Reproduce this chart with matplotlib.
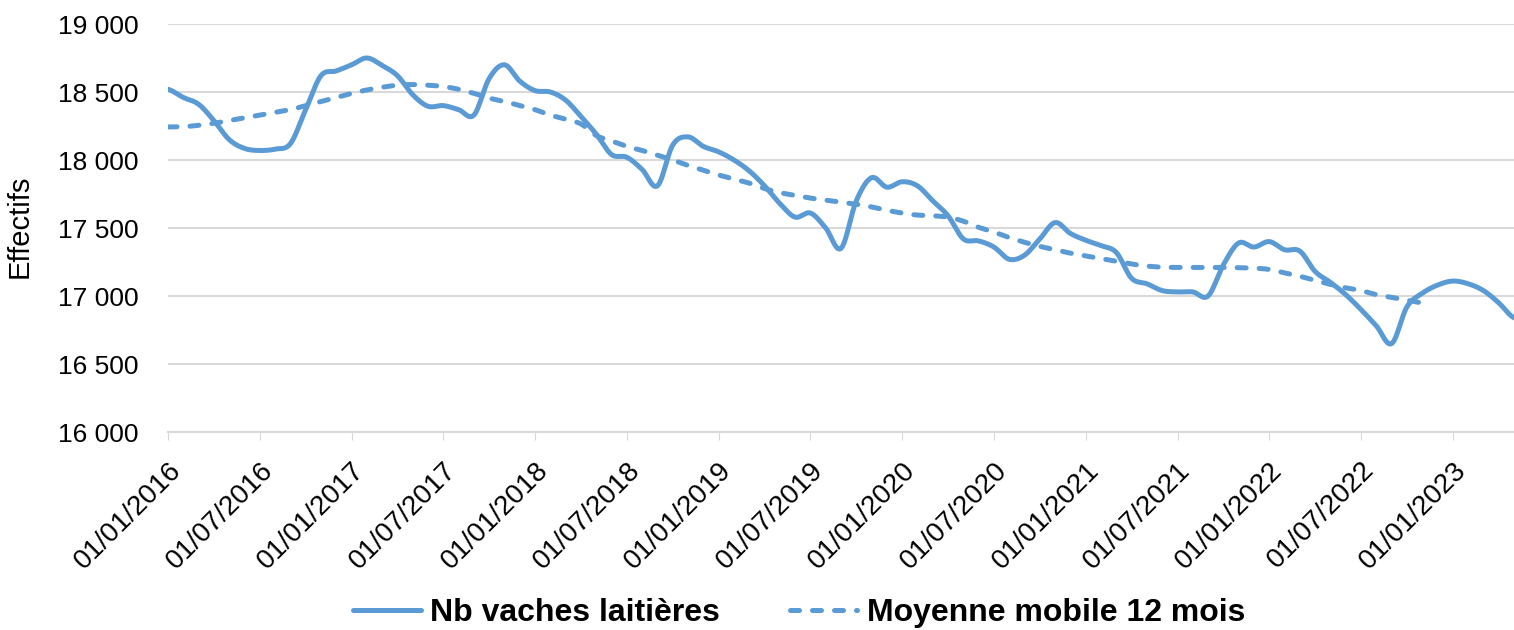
import numpy as np
import matplotlib.pyplot as plt
from matplotlib.ticker import FuncFormatter
from matplotlib.transforms import ScaledTranslation

# monthly values, Jan 2016 -> May 2023
vaches = [18520, 18460, 18410, 18290, 18150, 18085, 18070, 18080, 18120, 18370,
          18620, 18655, 18700, 18750, 18695, 18620, 18480, 18395, 18400, 18370,
          18330, 18600, 18700, 18580, 18510, 18500, 18440, 18320, 18190, 18040,
          18020, 17930, 17810, 18110, 18170, 18100, 18060, 18000, 17920, 17810,
          17680, 17580, 17610, 17500, 17350, 17700, 17870, 17800, 17840, 17810,
          17700, 17590, 17420, 17405, 17360, 17270, 17300, 17420, 17540, 17460,
          17410, 17370, 17320, 17130, 17090, 17040, 17030, 17030, 17000, 17230,
          17390, 17360, 17400, 17340, 17330, 17180, 17100, 17010, 16900, 16780,
          16650, 16920, 17020, 17080, 17110, 17090, 17040, 16950, 16840]
# 12-month moving average, Jan 2016 -> Nov 2022
moyenne = [18243, 18245, 18255, 18270, 18290, 18310, 18330, 18350, 18370, 18400,
           18430, 18460, 18490, 18515, 18535, 18550, 18555, 18550, 18540, 18520,
           18490, 18455, 18430, 18400, 18370, 18330, 18300, 18265, 18180, 18140,
           18100, 18070, 18035, 18000, 17960, 17925, 17890, 17860, 17830, 17790,
           17760, 17740, 17720, 17705, 17690, 17675, 17655, 17630, 17610, 17595,
           17590, 17580, 17550, 17505, 17470, 17430, 17395, 17365, 17340, 17315,
           17295, 17275, 17255, 17235, 17220, 17212, 17210, 17210, 17210, 17210,
           17208, 17205, 17195, 17170, 17145, 17115, 17085, 17060, 17040, 17010,
           16990, 16970, 16950]
tick_labels = ["01/01/2016", "01/07/2016", "01/01/2017", "01/07/2017", "01/01/2018",
               "01/07/2018", "01/01/2019", "01/07/2019", "01/01/2020", "01/07/2020",
               "01/01/2021", "01/07/2021", "01/01/2022", "01/07/2022", "01/01/2023"]

BLUE = "#5B9BD5"
GRID = "#D9D9D9"
plt.rcParams.update({"font.family": ["Liberation Sans", "DejaVu Sans"]})


def smooth(y, n=12):
    # Catmull-Rom rendering, close to Excel's "smoothed line"
    y = np.asarray(y, float)
    x = np.arange(len(y), dtype=float)
    p = np.concatenate([[y[0]], y, [y[-1]]])
    xs, ys = [], []
    t = np.linspace(0, 1, n, endpoint=False)
    for i in range(len(y) - 1):
        p0, p1, p2, p3 = p[i], p[i + 1], p[i + 2], p[i + 3]
        yy = 0.5 * ((2 * p1) + (-p0 + p2) * t + (2 * p0 - 5 * p1 + 4 * p2 - p3) * t ** 2
                    + (-p0 + 3 * p1 - 3 * p2 + p3) * t ** 3)
        xs.append(x[i] + t); ys.append(yy)
    xs.append([x[-1]]); ys.append([y[-1]])
    return np.concatenate(xs), np.concatenate(ys)


fig = plt.figure(figsize=(15.14, 6.3), dpi=100)
ax = fig.add_axes([168 / 1514, 1 - 432 / 630, (1514 - 168) / 1514, (432 - 24) / 630])

xs, ys = smooth(vaches)
ax.plot(xs, ys, color=BLUE, lw=3.6, solid_capstyle="round", solid_joinstyle="round",
        label="Nb vaches laitières")
xm, ym = smooth(moyenne)
ax.plot(xm, ym, color=BLUE, lw=3.6, ls=(0, (1.8, 2.6)), dash_capstyle="round",
        label="Moyenne mobile 12 mois")

ax.set_xlim(0, len(vaches) - 1)
ax.set_ylim(16000, 19000)
ax.set_yticks(np.arange(16000, 19001, 500))
ax.yaxis.set_major_formatter(FuncFormatter(lambda v, _: f"{int(v):,}".replace(",", " ")))
ax.set_xticks(np.arange(0, 6 * len(tick_labels), 6))
ax.set_xticklabels(tick_labels, rotation=45, ha="right", rotation_mode="anchor")
shift = ScaledTranslation(8 / 100, 0, fig.dpi_scale_trans)
for lab in ax.get_xticklabels():
    lab.set_transform(lab.get_transform() + shift)
ax.tick_params(axis="x", length=6, color=GRID, labelsize=20, pad=12)
ax.tick_params(axis="y", length=0, labelsize=19, pad=21)
ax.grid(axis="y", color=GRID, lw=1.5)
ax.set_axisbelow(True)
for s in ["top", "right", "left"]:
    ax.spines[s].set_visible(False)
ax.spines["bottom"].set_color(GRID)
ax.spines["bottom"].set_linewidth(1.5)
ax.set_ylabel("Effectifs", fontsize=21)
ax.yaxis.set_label_coords((34 - 168) / 1346, (432 - 226) / 408)

fig.legend(loc="center", bbox_to_anchor=(0.528, 1 - 613 / 630), ncol=2, frameon=False,
           handlelength=2.1, handletextpad=0.3, columnspacing=2.2,
           prop={"weight": "bold", "size": 23})

fig.savefig("out.png", dpi=100)
